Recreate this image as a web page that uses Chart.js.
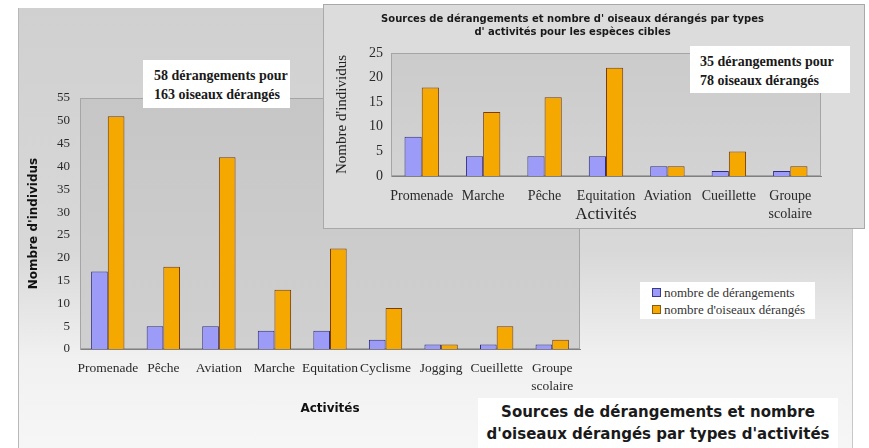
<!DOCTYPE html>
<html>
<head>
<meta charset="utf-8">
<title>Sources de dérangements</title>
<script src="https://cdn.jsdelivr.net/npm/chart.js@4.4.0/dist/chart.umd.min.js"></script>
<style>
    body { margin: 0; width: 869px; height: 448px; background: #fff; position: relative; overflow: hidden; }
    #cadre { position: absolute; left: 18px; top: 8px; width: 835px; height: 440px;
             background: linear-gradient(#d0d0d0, #d8d8d8 55%, #f1f1f1 80%, #f6f6f6);
             border-left: 1px solid #b8b8b8; border-right: 1px solid #c8c8c8; box-sizing: border-box; }
    #cadre canvas, #encart canvas { position: absolute; left: 0; top: 0; }
    #encart { position: absolute; left: 323px; top: 4px; width: 542px; height: 225px;
              background: #dcdcdc; border: 1px solid #a9a9a9; box-sizing: border-box; }
    .boite { position: absolute; background: #fff; color: #1a1a1a; }
    .serif { font-family: 'Liberation Serif', 'Times New Roman', serif; }
    #total { left: 143px; top: 60px; width: 147px; height: 48px; font-weight: bold; font-size: 14px; line-height: 19px; padding: 6px 0 0 11px; box-sizing: border-box; }
    #totalCibles { left: 690px; top: 46px; width: 160px; height: 47px; font-weight: bold; font-size: 14px; line-height: 19px; padding: 6px 0 0 10px; box-sizing: border-box; }
    #legende { left: 640px; top: 282px; width: 175px; height: 37px; font-size: 13px; line-height: 17px; padding: 2px 0 0 12px; box-sizing: border-box; color: #333; }
    #legende span { display: inline-block; width: 7px; height: 7px; margin-right: 3px; border: 1px solid; }
    #titre { left: 478px; top: 398px; width: 360px; height: 50px; font-family: 'DejaVu Sans', sans-serif;
             font-weight: bold; font-size: 15px; line-height: 22px; text-align: center; padding-top: 3px; box-sizing: border-box; }
</style>
</head>
<body>
<div id="cadre"><canvas id="graphTotal" width="835" height="440"></canvas></div>
<div id="encart"><canvas id="graphCibles" width="542" height="225"></canvas></div>
<div id="total" class="boite serif">58 dérangements pour<br>163 oiseaux dérangés</div>
<div id="totalCibles" class="boite serif">35 dérangements pour<br>78 oiseaux dérangés</div>
<div id="legende" class="boite serif">
    <div><span style="background:#9c9cf8;border-color:#3a3a8c"></span>nombre de dérangements</div>
    <div><span style="background:#f5a800;border-color:#8a5a10"></span>nombre d'oiseaux dérangés</div>
</div>
<div id="titre" class="boite">Sources de dérangements et nombre<br>d'oiseaux dérangés par types d'activités</div>
<script>
    // toutes les activités
    var activites = ['Promenade', 'Pêche', 'Aviation', 'Marche', 'Equitation', 'Cyclisme', 'Jogging', 'Cueillette', ['Groupe', 'scolaire']];
    var derangements = [17, 5, 5, 4, 4, 2, 1, 1, 1];
    var oiseaux = [51, 18, 42, 13, 22, 9, 1, 5, 2];
    var maxTotal = 55;

    // espèces cibles
    var activitesCibles = ['Promenade', 'Marche', 'Pêche', 'Equitation', 'Aviation', 'Cueillette', ['Groupe', 'scolaire']];
    var derangementsCibles = [8, 4, 4, 4, 2, 1, 1];
    var oiseauxCibles = [18, 13, 16, 22, 2, 5, 2];
    var maxCibles = 25;
    var pas = 5;

    var serif = "'Liberation Serif', 'Times New Roman', serif";
    var sans = "'DejaVu Sans', Verdana, sans-serif";

    // fond gris de la zone de tracé
    var fondZone = {
        id: 'fondZone',
        beforeDraw: function (chart, args, opts) {
            var a = chart.chartArea;
            var c = chart.ctx;
            c.save();
            var g = c.createLinearGradient(0, a.top, 0, a.bottom);
            g.addColorStop(0, opts.haut);
            g.addColorStop(1, opts.bas);
            c.fillStyle = g;
            c.fillRect(a.left, a.top, a.right - a.left, a.bottom - a.top);
            c.strokeStyle = '#a5a5a5';
            c.lineWidth = 1;
            c.strokeRect(a.left + 0.5, a.top + 0.5, a.right - a.left - 1, a.bottom - a.top - 1);
            c.restore();
        }
    };

    function jeux(d, o) {
        return [{
            label: 'nombre de dérangements',
            data: d,
            backgroundColor: '#9c9cf8',
            borderColor: '#2e2e80',
            borderWidth: 1,
            borderSkipped: 'bottom'
        }, {
            label: "nombre d'oiseaux dérangés",
            data: o,
            backgroundColor: '#f5a800',
            borderColor: '#7a3c08',
            borderWidth: 1,
            borderSkipped: 'bottom'
        }];
    }

    Chart.defaults.animation = false;
    Chart.defaults.color = '#222';

    new Chart(document.getElementById('graphTotal').getContext('2d'), {
        type: 'bar',
        data: { labels: activites, datasets: jeux(derangements, oiseaux) },
        options: {
            responsive: false,
            layout: { padding: { top: 90, right: 274, left: 0, bottom: 0 } },
            datasets: { bar: { categoryPercentage: 0.6, barPercentage: 1 } },
            plugins: {
                legend: { display: false },
                tooltip: { enabled: false },
                fondZone: { haut: '#c6c6c6', bas: '#d0d0d0' }
            },
            scales: {
                x: {
                    afterFit: function (s) { s.height = 99; },
                    grid: { display: false, drawTicks: false },
                    border: { color: '#808080' },
                    ticks: { font: { family: serif, size: 13.5, lineHeight: 1.3 }, padding: 11, maxRotation: 0, autoSkip: false, color: '#2a2a2a' },
                    title: { display: true, text: 'Activités', font: { family: sans, size: 12, weight: 'bold' }, padding: { top: 32, bottom: 32 }, color: '#111' }
                },
                y: {
                    min: 0,
                    max: maxTotal,
                    afterFit: function (s) { s.width = 61; },
                    grid: { display: false, drawTicks: false },
                    border: { color: '#a5a5a5' },
                    ticks: { stepSize: pas, font: { family: serif, size: 13 }, padding: 10, color: '#2a2a2a' },
                    title: { display: true, text: "Nombre d'individus", font: { family: sans, size: 12, weight: 'bold' }, padding: { top: 8, bottom: 8 }, color: '#111' }
                }
            }
        },
        plugins: [fondZone]
    });

    new Chart(document.getElementById('graphCibles').getContext('2d'), {
        type: 'bar',
        data: { labels: activitesCibles, datasets: jeux(derangementsCibles, oiseauxCibles) },
        options: {
            responsive: false,
            layout: { padding: { top: 0, right: 45, left: 0, bottom: 0 } },
            datasets: { bar: { categoryPercentage: 0.56, barPercentage: 1 } },
            plugins: {
                legend: { display: false },
                tooltip: { enabled: false },
                title: {
                    display: true,
                    text: ["Sources de dérangements et nombre d' oiseaux dérangés par types", "d' activités pour les espèces cibles"],
                    font: { family: sans, size: 10, weight: 'bold', lineHeight: 1.3 },
                    padding: { top: 8, bottom: 14 },
                    color: '#1a1a1a'
                },
                fondZone: { haut: '#cbcbcb', bas: '#d3d3d3' }
            },
            scales: {
                x: {
                    afterFit: function (s) { s.height = 54; },
                    grid: { display: false, drawTicks: false },
                    border: { color: '#808080' },
                    ticks: { font: { family: serif, size: 14, lineHeight: 1.25 }, padding: 12, maxRotation: 0, autoSkip: false, color: '#2a2a2a' },
                    title: { display: true, text: 'Activités', font: { family: serif, size: 17 }, padding: { top: 5, bottom: 5 }, color: '#222' }
                },
                y: {
                    min: 0,
                    max: maxCibles,
                    afterFit: function (s) { s.width = 67; },
                    grid: { display: false, drawTicks: false },
                    border: { color: '#a5a5a5' },
                    ticks: { stepSize: pas, font: { family: serif, size: 14 }, padding: 8, color: '#2a2a2a' },
                    title: { display: true, text: "Nombre d'individus", font: { family: serif, size: 15 }, padding: { top: 9, bottom: 9 }, color: '#222' }
                }
            }
        },
        plugins: [fondZone]
    });
</script>
</body>
</html>
